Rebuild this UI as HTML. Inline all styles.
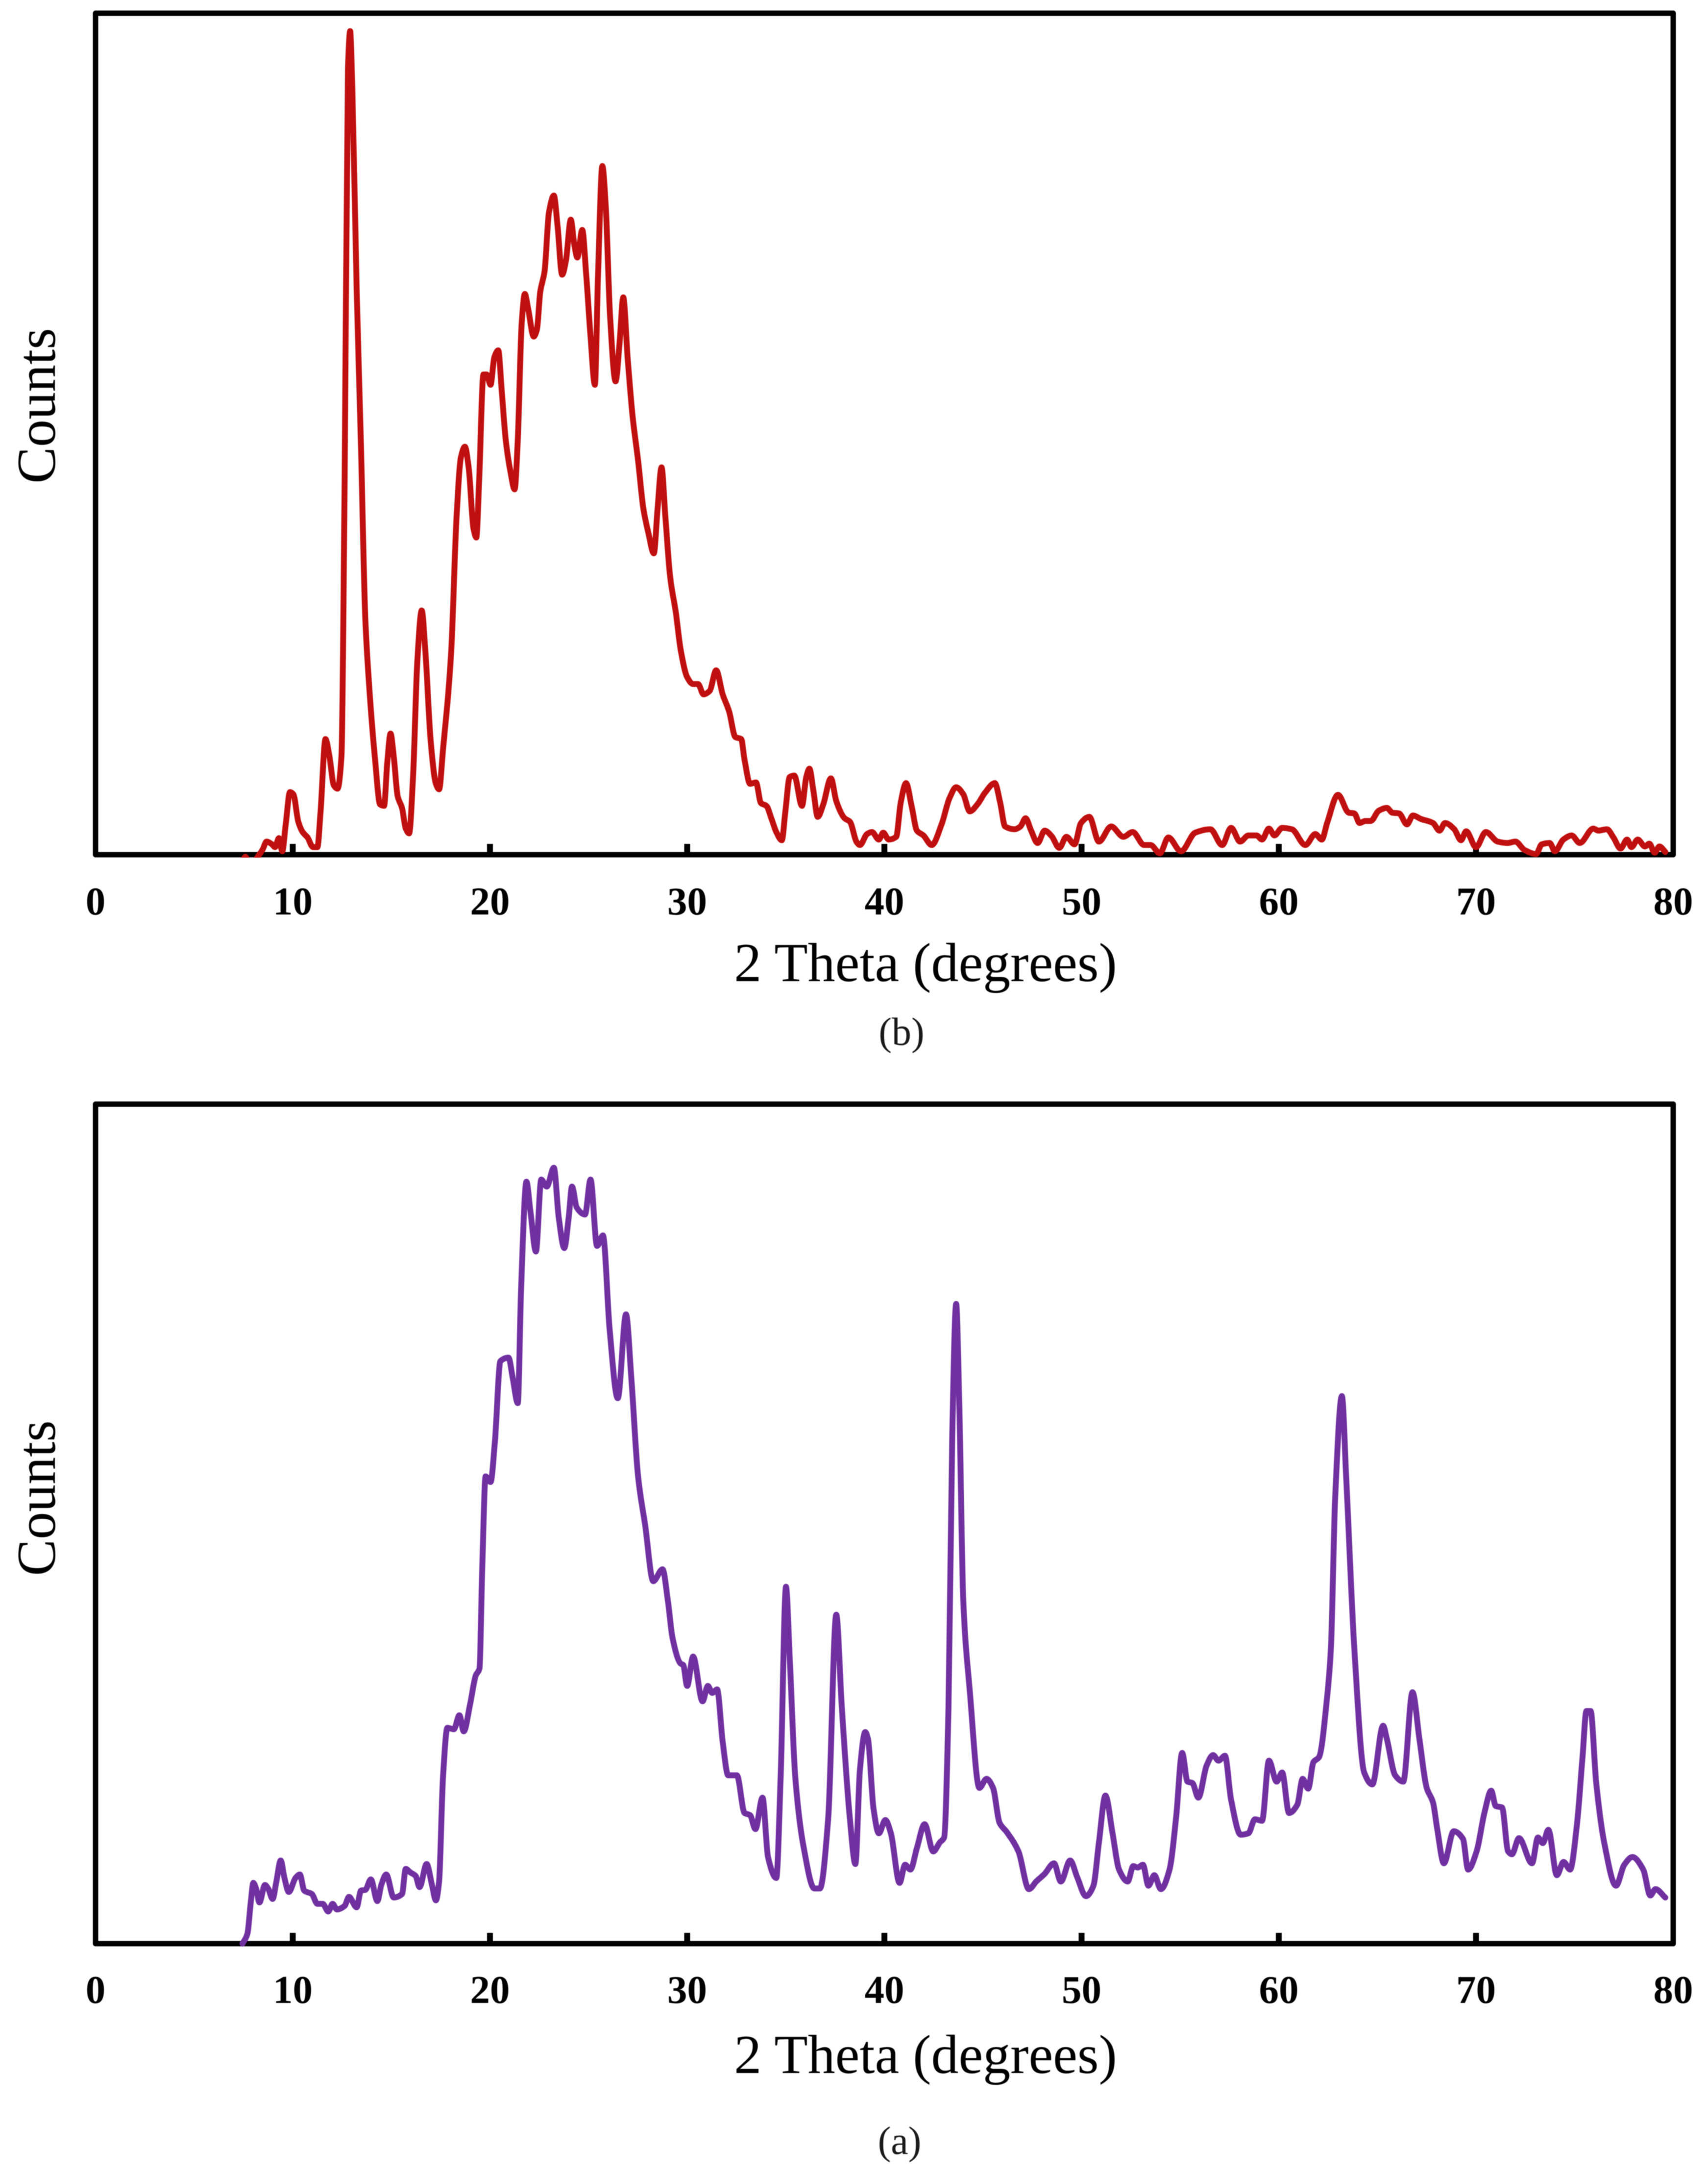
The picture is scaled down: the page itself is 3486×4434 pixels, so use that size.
<!DOCTYPE html>
<html lang="en">
<head>
<meta charset="utf-8">
<title>XRD patterns</title>
<style>
html,body{margin:0;padding:0;background:#fff;width:3486px;height:4434px;overflow:hidden}
svg{display:block;position:absolute;left:0;top:0;filter:blur(0.8px)}
text{font-family:"Liberation Serif",serif;fill:#000}
.tick{font-size:81px;font-weight:bold;text-anchor:middle}
.axis-title{font-size:112px;text-anchor:middle}
.y-title{font-size:112px;text-anchor:middle}
.caption{font-size:80px;text-anchor:middle;fill:#1a1a1a}
</style>
</head>
<body>
<svg id="figure" xmlns="http://www.w3.org/2000/svg" width="3486" height="4434" viewBox="0 0 3486 4434">
  <defs>
    <clipPath id="clip-b"><rect x="195" y="27" width="3220" height="1723"/></clipPath>
    <clipPath id="clip-a"><rect x="195" y="2253" width="3220" height="1719"/></clipPath>
  </defs>
  <g id="panel-b">
    <text x="112" y="828" class="y-title" transform="rotate(-90 112 828)">Counts</text>
    <text x="1889" y="2002" class="axis-title">2 Theta (degrees)</text>
    <text x="1840" y="2132" class="caption">(b)</text>
  </g>
  <g id="panel-a">
    <text x="112" y="3057" class="y-title" transform="rotate(-90 112 3057)">Counts</text>
    <text x="1889" y="4230" class="axis-title">2 Theta (degrees)</text>
    <text x="1836" y="4395" class="caption">(a)</text>
  </g>
</svg>
<script>
var tickLabels = [0, 10, 20, 30, 40, 50, 60, 70, 80];

var redTheta = [
7.45,7.6,7.75,8.05,8.2,8.48,8.67,8.95,9.1,9.3,
9.47,9.64,9.86,10.03,10.28,10.5,10.75,11.03,11.25,11.41,
11.66,11.86,12.08,12.27,12.47,12.63,12.8,12.91,13.02,13.24,
13.46,13.68,13.88,14.16,14.43,14.63,14.79,14.96,15.12,15.32,
15.54,15.73,15.9,16.1,16.32,16.54,16.73,17.0,17.26,17.42,
17.62,18.03,18.31,18.53,18.73,18.92,19.17,19.31,19.45,19.67,
19.83,20.03,20.22,20.42,20.6,20.8,21.03,21.25,21.41,21.61,
21.77,21.94,22.22,22.38,22.55,22.77,22.99,23.24,23.43,23.66,
23.85,24.1,24.27,24.43,24.68,24.88,25.1,25.32,25.48,25.7,
25.87,26.09,26.37,26.57,26.76,26.98,27.23,27.51,27.78,28.03,
28.31,28.5,28.7,28.89,29.14,29.42,29.67,30.0,30.3,30.55,
30.83,31.14,31.47,31.8,32.13,32.44,32.74,32.91,33.19,33.49,
33.74,34.02,34.29,34.52,34.8,34.98,35.2,35.43,35.82,36.04,
36.2,36.4,36.62,36.9,37.29,37.56,37.98,38.25,38.6,38.76,
39.12,39.37,39.72,39.94,40.22,40.6,40.83,41.1,41.38,41.65,
41.98,42.4,42.9,43.3,43.64,44.0,44.33,44.74,45.1,45.6,
45.87,46.12,46.6,46.9,47.16,47.44,47.77,48.13,48.48,48.87,
49.23,49.64,49.97,50.39,50.88,51.5,52.12,52.59,53.17,53.5,
53.97,54.4,55.04,55.76,56.53,57.13,57.58,58.04,58.46,58.87,
59.15,59.5,59.78,60.17,60.66,61.35,61.85,62.18,62.45,63.0,
63.55,63.83,64.1,64.38,64.66,65.07,65.48,65.76,66.1,66.5,
66.8,67.2,67.82,68.15,68.43,68.9,69.24,69.5,70.0,70.5,
71.1,71.6,72.0,72.45,73.05,73.33,73.74,74.0,74.43,74.85,
75.26,75.95,76.2,76.64,76.97,77.33,77.66,77.88,78.2,78.57,
78.79,79.06,79.3,79.6];

var redCounts = [
-10,-3,-10,-10,-4,8,19,15,11,24,
5,43,91,88,48,33,25,11,11,63,
168,143,101,96,143,543,1143,1197,1113,823,
593,343,243,143,73,71,133,176,143,85,
68,38,31,113,283,355,293,163,103,95,
153,293,493,578,593,563,473,461,543,698,
698,683,723,733,673,603,558,531,603,773,
815,793,753,763,818,848,933,958,913,843,
863,923,888,868,908,843,753,683,843,1001,
943,783,688,743,810,723,638,573,503,468,
438,503,563,493,403,353,298,258,248,248,
233,238,268,233,208,171,168,138,103,105,
75,71,51,33,21,63,113,115,71,113,
125,93,55,73,111,78,53,48,18,14,
30,33,22,32,22,26,76,104,71,35,
28,14,44,82,98,88,63,74,90,104,
76,41,37,41,53,35,17,35,27,10,
26,15,46,55,19,41,26,33,14,14,
2,25,5,32,37,14,39,19,28,28,
22,38,28,39,37,14,30,22,46,87,
61,60,46,49,49,64,68,61,60,44,
57,52,46,35,46,37,21,34,11,33,
19,17,19,7,1,15,17,5,22,28,
17,38,35,37,25,9,22,11,22,12,
16,3,12,4];

var purpleTheta = [
7.45,7.7,7.87,8.0,8.14,8.31,8.59,8.75,8.98,9.17,
9.39,9.58,9.8,10.14,10.36,10.58,10.97,11.25,11.52,11.8,
12.02,12.24,12.63,12.85,13.24,13.46,13.68,13.96,14.29,14.49,
14.74,15.12,15.54,15.73,15.96,16.23,16.43,16.79,17.06,17.26,
17.42,17.62,17.84,18.17,18.45,18.67,19.0,19.28,19.47,19.61,
19.78,20.03,20.25,20.53,20.94,21.16,21.41,21.58,21.85,22.05,
22.33,22.6,22.88,23.24,23.49,23.77,23.99,24.16,24.4,24.82,
25.1,25.43,25.73,26.07,26.48,26.9,27.17,27.51,27.87,28.28,
28.75,29.03,29.25,29.67,29.8,30.0,30.3,30.78,31.05,31.27,
31.52,31.8,32.08,32.52,32.91,33.19,33.46,33.82,34.1,34.52,
34.74,35.01,35.2,35.48,35.9,36.45,36.73,37.15,37.56,37.84,
38.25,38.53,38.76,39.03,39.17,39.45,39.72,40.05,40.33,40.77,
41.05,41.32,41.65,42.04,42.48,42.81,43.03,43.25,43.44,43.64,
43.8,44.0,44.33,44.82,45.18,45.51,45.84,46.2,46.8,47.33,
47.7,48.13,48.6,48.95,49.42,49.78,50.22,50.6,50.88,51.21,
51.57,51.9,52.34,52.62,52.84,53.11,53.39,53.69,54.02,54.46,
54.79,55.1,55.37,55.62,55.92,56.34,56.67,56.94,57.27,57.58,
58.07,58.46,58.79,59.15,59.5,59.89,60.17,60.52,60.94,61.21,
61.49,61.76,62.04,62.45,62.64,62.86,63.2,63.42,63.83,64.33,
64.74,65.29,65.48,65.9,66.31,66.78,67.13,67.5,67.82,68.04,
68.37,68.87,69.34,69.6,70.03,70.44,70.77,71.0,71.32,71.63,
71.82,72.18,72.84,73.14,73.39,73.67,74.1,74.44,74.77,75.12,
75.4,75.6,75.81,76.09,76.5,77.1,77.52,77.93,78.48,78.84,
79.1,79.6];

var purpleCounts = [
0,14,59,87,79,59,84,79,64,89,
119,94,74,94,99,76,71,57,57,46,
57,49,54,67,52,76,77,92,61,84,
99,66,71,107,102,97,81,114,84,62,
89,239,309,307,327,304,344,384,394,539,
669,661,719,834,839,809,774,939,1091,1049,
991,1094,1084,1111,1039,996,1039,1084,1054,1044,
1094,999,1014,879,781,901,809,669,599,519,
536,489,439,401,399,369,411,347,369,359,
364,289,241,241,187,184,164,209,124,94,
239,511,409,239,139,79,79,179,471,339,
179,114,249,303,293,193,158,177,158,87,
113,106,137,171,132,145,152,336,726,916,
769,492,362,223,236,223,173,160,132,78,
89,100,115,89,119,95,68,83,145,212,
158,106,89,111,109,113,83,98,78,106,
180,273,232,230,209,255,270,262,269,206,
156,158,178,176,262,232,245,187,199,236,
222,260,267,353,422,639,784,665,422,245,
228,312,293,241,232,360,293,223,202,163,
115,161,150,106,132,189,219,197,195,132,
128,151,115,152,144,163,98,117,106,171,
267,333,333,232,145,83,113,124,106,69,
78,66];

var SVG_NS = 'http://www.w3.org/2000/svg';

function xScale(theta) {
  return 195 + (theta / 80) * 3220;
}
function yScaleB(count) {
  return 1744 - count * (1717 / 1223);
}
function yScaleA(count) {
  return 3966 - count * (1713 / 1202);
}

function smoothPath(xs, ys, xFn, yFn) {
  var px = [], py = [], d = [], m = [], i, n = xs.length;
  for (i = 0; i < n; i++) {
    px.push(xFn(xs[i]));
    py.push(yFn(ys[i]));
  }
  for (i = 0; i < n - 1; i++) {
    d.push((py[i + 1] - py[i]) / (px[i + 1] - px[i]));
  }
  m.push(d[0]);
  for (i = 1; i < n - 1; i++) {
    if (d[i - 1] * d[i] <= 0) {
      m.push(0);
    } else {
      var h0 = px[i] - px[i - 1], h1 = px[i + 1] - px[i];
      var w1 = 2 * h1 + h0, w2 = h1 + 2 * h0;
      m.push((w1 + w2) / (w1 / d[i - 1] + w2 / d[i]));
    }
  }
  m.push(d[n - 2]);
  var path = 'M' + px[0].toFixed(1) + ' ' + py[0].toFixed(1);
  for (i = 0; i < n - 1; i++) {
    var h = (px[i + 1] - px[i]) / 3;
    path += 'C' + (px[i] + h).toFixed(1) + ' ' + (py[i] + m[i] * h).toFixed(1) + ' ' + (px[i + 1] - h).toFixed(1) + ' ' + (py[i + 1] - m[i + 1] * h).toFixed(1) + ' ' + px[i + 1].toFixed(1) + ' ' + py[i + 1].toFixed(1);
  }
  return path;
}

function drawPanel(groupId, suffix, topY, bottomY, labelY, xs, ys, yFn, color, clipId) {
  var g = document.getElementById(groupId);

  tickLabels.forEach(function (t) {
    var label = document.createElementNS(SVG_NS, 'text');
    label.setAttribute('x', xScale(t));
    label.setAttribute('y', labelY);
    label.setAttribute('class', 'tick');
    
    
    label.textContent = t;
    g.appendChild(label);

    if (t > 0 && t < 80) {
      var tick = document.createElementNS(SVG_NS, 'line');
      tick.setAttribute('x1', xScale(t));
      tick.setAttribute('x2', xScale(t));
      tick.setAttribute('y1', bottomY);
      tick.setAttribute('y2', bottomY - 22);
      tick.setAttribute('stroke', '#000');
      tick.setAttribute('stroke-width', '12');
      
      
      g.appendChild(tick);
    }
  });

  var frame = document.createElementNS(SVG_NS, 'rect');
  frame.setAttribute('x', xScale(0));
  frame.setAttribute('y', topY);
  frame.setAttribute('width', xScale(80) - xScale(0));
  frame.setAttribute('height', bottomY - topY);
  frame.setAttribute('fill', 'none');
  frame.setAttribute('stroke', '#000');
  frame.setAttribute('stroke-width', '11');
  frame.setAttribute('stroke-linejoin', 'round');
  
  
  g.appendChild(frame);

  var line = document.createElementNS(SVG_NS, 'path');
  line.setAttribute('d', smoothPath(xs, ys, xScale, yFn));
  line.setAttribute('fill', 'none');
  line.setAttribute('stroke', color);
  line.setAttribute('stroke-width', '12');
  line.setAttribute('stroke-linejoin', 'round');
  line.setAttribute('stroke-linecap', 'round');
  line.setAttribute('clip-path', 'url(#' + clipId + ')');
  
  
  g.appendChild(line);
}

drawPanel('panel-b', 'b', 27, 1744, 1866, redTheta, redCounts, yScaleB, '#C00F0F', 'clip-b');
drawPanel('panel-a', 'a', 2253, 3966, 4087, purpleTheta, purpleCounts, yScaleA, '#7030A0', 'clip-a');
</script>
</body>
</html>
